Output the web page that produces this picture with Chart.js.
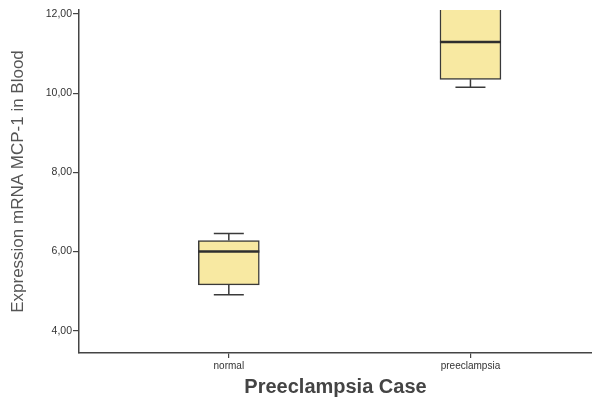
<!DOCTYPE html>
<html>
<head>
<meta charset="utf-8">
<script src="https://cdn.jsdelivr.net/npm/chart.js@4.4.1/dist/chart.umd.min.js"></script>
<style>
  html, body { margin: 0; padding: 0; background: #ffffff; }
  #wrap { width: 592px; height: 400px; position: relative; }
</style>
</head>
<body>
<div id="wrap"><canvas id="c" width="592" height="400"></canvas></div>
<script>
const categories = ['normal', 'preeclampsia'];
const whiskerLow = [4.91, 10.15];
const q1 = [5.16, 10.35];
const median = [6.00, 11.29];
const q3 = [6.28, 12.45];
const whiskerHigh = [6.46, 12.80];
const yTicks = [4, 6, 8, 10, 12];
const yTickLabels = ['4,00', '6,00', '8,00', '10,00', '12,00'];

const boxData = categories.map((c, i) => ({ x: i, y: [q1[i], q3[i]] }));

const boxPlugin = {
  id: 'boxWhiskers',
  afterDatasetsDraw(chart) {
    const { ctx, chartArea, scales } = chart;
    const xs = scales.x, ys = scales.y;
    ctx.save();
    ctx.beginPath();
    ctx.rect(chartArea.left, chartArea.top - 2, chartArea.right - chartArea.left, chartArea.bottom - chartArea.top + 2);
    ctx.clip();
    categories.forEach((c, i) => {
      const px = xs.getPixelForValue(i);
      const yLo = ys.getPixelForValue(whiskerLow[i]);
      const yQ1 = ys.getPixelForValue(q1[i]);
      const yQ3 = ys.getPixelForValue(q3[i]);
      const yHi = ys.getPixelForValue(whiskerHigh[i]);
      const yMed = ys.getPixelForValue(median[i]);
      ctx.strokeStyle = '#3a3a3a';
      ctx.lineWidth = 1.5;
      ctx.beginPath();
      ctx.moveTo(px, yQ1); ctx.lineTo(px, yLo);
      ctx.moveTo(px - 15, yLo); ctx.lineTo(px + 15, yLo);
      ctx.moveTo(px, yQ3); ctx.lineTo(px, yHi);
      ctx.moveTo(px - 15, yHi); ctx.lineTo(px + 15, yHi);
      ctx.stroke();
      ctx.lineWidth = 2.5;
      ctx.strokeStyle = '#2e2e2e';
      ctx.beginPath();
      ctx.moveTo(px - 30.5, yMed); ctx.lineTo(px + 30.5, yMed);
      ctx.stroke();
    });
    ctx.restore();
  }
};

new Chart(document.getElementById('c'), {
  type: 'bar',
  data: {
    datasets: [{
      data: boxData,
      backgroundColor: '#f8e9a2',
      borderColor: '#3a3a3a',
      borderWidth: 1.5,
      borderSkipped: false,
      barThickness: 61
    }]
  },
  plugins: [boxPlugin],
  options: {
    responsive: false,
    animation: false,
    layout: { padding: { left: 0, right: 0, top: 10, bottom: 0 } },
    plugins: { legend: { display: false }, tooltip: { enabled: false } },
    scales: {
      x: {
        type: 'linear',
        offset: false,
        min: -0.62,
        max: 1.503,
        afterBuildTicks(s) { s.ticks = categories.map((c, i) => ({ value: i })); },
        afterFit(s) { s.height = 47; },
        ticks: {
          callback: (v) => categories[v],
          font: { family: 'Liberation Sans, Arial', size: 10 },
          color: '#333',
          padding: 2,
          maxRotation: 0,
          autoSkip: false
        },
        grid: { offset: false, drawOnChartArea: false, drawTicks: true, tickLength: 5, color: '#444', lineWidth: 1.2 },
        border: { display: true, color: '#444', width: 1.5 },
        title: {
          display: true,
          text: 'Preeclampsia Case',
          font: { family: 'Liberation Sans, Arial', size: 20, weight: 'bold' },
          color: '#444',
          padding: { top: 0, bottom: 1 }
        }
      },
      y: {
        min: 3.44,
        max: 12.1,
        afterBuildTicks(s) { s.ticks = yTicks.map(v => ({ value: v })); },
        afterFit(s) { s.width = 79; },
        ticks: {
          callback: (v) => yTickLabels[yTicks.indexOf(v)],
          font: { family: 'Liberation Sans, Arial', size: 10.5 },
          color: '#333',
          padding: 1
        },
        grid: { drawOnChartArea: false, drawTicks: true, tickLength: 6, color: '#444', lineWidth: 1.2 },
        border: { display: true, color: '#444', width: 1.5 },
        title: {
          display: true,
          text: 'Expression mRNA MCP-1 in Blood',
          font: { family: 'Liberation Sans, Arial', size: 17 },
          color: '#555',
          padding: { top: 8, bottom: 0 }
        }
      }
    }
  }
});
</script>
</body>
</html>
